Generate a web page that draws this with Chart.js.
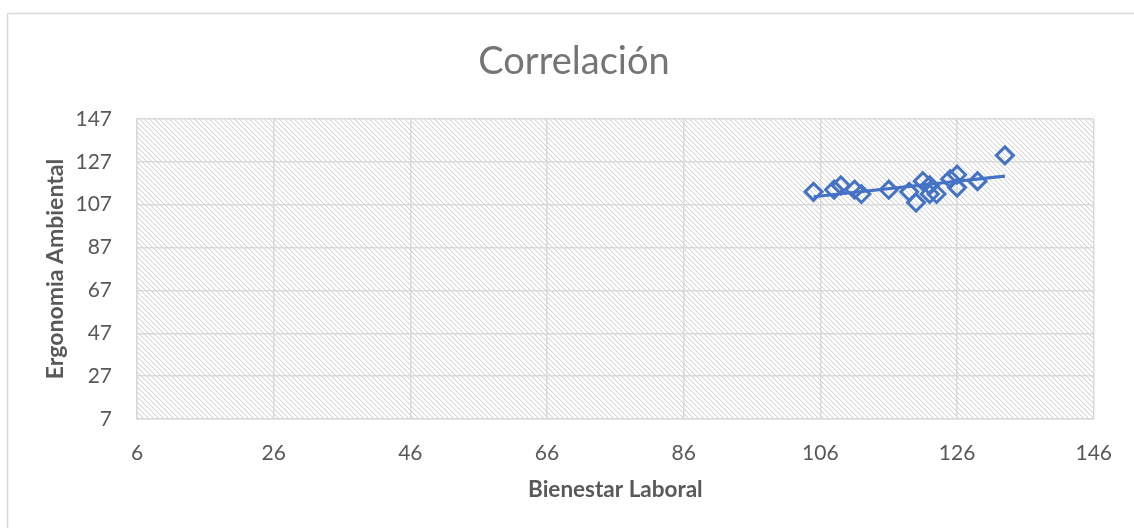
<!DOCTYPE html>
<html>
<head>
<meta charset="utf-8">
<script src="https://cdn.jsdelivr.net/npm/chart.js@4/dist/chart.umd.min.js"></script>
<style>
  html, body { margin: 0; padding: 0; background: #fff; }
  #wrap { width: 1134px; height: 528px; }
</style>
</head>
<body>
<div id="wrap"><canvas id="corr" width="1134" height="528"></canvas></div>
<script>
// Bienestar Laboral (x) vs Ergonomia Ambiental (y), one pair per respondent
const bienestar = [105, 108, 109, 111, 112, 116, 119, 120, 121, 122, 122, 123, 125, 126, 126, 129, 133];
const ergonomia = [113, 114, 116, 114, 112, 114, 113, 108, 118, 116, 112, 112, 119, 121, 115, 118, 130];
const xTicks = [6, 26, 46, 66, 86, 106, 126, 146];
const yTicks = [7, 27, 47, 67, 87, 107, 127, 147];

const BLUE = '#4472c4';
const TEXT = '#595959';
const GRID = '#d9d9d9';

const points = bienestar.map((x, i) => ({ x: x, y: ergonomia[i] }));

// least squares trend line over the observed range
function trendLine(xs, ys){
    const n = xs.length;
    const mx = xs.reduce((a, b) => a + b, 0) / n;
    const my = ys.reduce((a, b) => a + b, 0) / n;
    let sxy = 0, sxx = 0;
    for (let i = 0; i < n; i++){
        sxy += (xs[i] - mx) * (ys[i] - my);
        sxx += (xs[i] - mx) * (xs[i] - mx);
    }
    const m = sxy / sxx, b = my - m * mx;
    const x0 = Math.min(...xs), x1 = Math.max(...xs);
    return [{ x: x0, y: m * x0 + b }, { x: x1, y: m * x1 + b }];
}

// light downward diagonal hatch for the plot area
function hatchPattern(ctx){
    const tile = document.createElement('canvas');
    tile.width = 5; tile.height = 5;
    const t = tile.getContext('2d');
    t.fillStyle = '#ffffff';
    t.fillRect(0, 0, 5, 5);
    t.fillStyle = '#d6d6d6';
    for (let i = 0; i < 5; i++) t.fillRect(i, i, 1, 1);
    t.fillStyle = '#f0f0f0';
    for (let i = 0; i < 5; i++) t.fillRect((i + 1) % 5, i, 1, 1);
    return ctx.createPattern(tile, 'repeat');
}

const backdrop = {
    id: 'backdrop',
    beforeDraw(chart){
        const ctx = chart.ctx;
        const a = chart.chartArea;
        ctx.save();
        ctx.fillStyle = '#ffffff';
        ctx.fillRect(0, 0, chart.width, chart.height);
        ctx.strokeStyle = GRID;
        ctx.lineWidth = 1.5;
        ctx.strokeRect(7.5, 13.5, chart.width + 10, chart.height + 10);
        ctx.fillStyle = hatchPattern(ctx);
        ctx.fillRect(a.left, a.top, a.right - a.left, a.bottom - a.top);
        ctx.restore();
    }
};

function initializeChart(canvasId){
    const ctx = document.getElementById(canvasId).getContext('2d');
    new Chart(ctx, {
        type: 'scatter',
        data: {
            datasets: [{
                label: 'Ergonomia Ambiental',
                data: points,
                pointStyle: 'rectRot',
                pointRadius: 8.5,
                pointHoverRadius: 8.5,
                borderColor: BLUE,
                borderWidth: 3,
                backgroundColor: 'rgba(0,0,0,0)',
                order: 1
            }, {
                type: 'line',
                label: 'Lineal',
                data: trendLine(bienestar, ergonomia),
                borderColor: BLUE,
                borderWidth: 3.2,
                pointRadius: 0,
                fill: false,
                order: 2
            }]
        },
        options: {
            responsive: false,
            animation: false,
            layout: { padding: { left: 14, right: 0, top: 0, bottom: 0 } },
            plugins: {
                legend: { display: false },
                tooltip: { enabled: false },
                title: {
                    display: true,
                    text: 'Correlación',
                    color: '#757575',
                    font: { family: 'Lato', size: 38, weight: 'normal', lineHeight: 1.2 },
                    padding: { top: 39, bottom: 34.4 }
                }
            },
            scales: {
                x: {
                    type: 'linear',
                    min: xTicks[0],
                    max: xTicks[xTicks.length - 1],
                    afterBuildTicks: s => { s.ticks = xTicks.map(v => ({ value: v })); },
                    afterFit: s => { s.height = 109; },
                    grid: { color: GRID, lineWidth: 1.5, drawTicks: false },
                    border: { color: GRID, width: 1.5 },
                    ticks: { color: TEXT, padding: 22, font: { family: 'Lato', size: 21 } },
                    title: {
                        display: true,
                        text: 'Bienestar Laboral',
                        color: TEXT,
                        font: { family: 'Lato', size: 22.5, weight: 'bold', lineHeight: 1.2 },
                        padding: { top: 0, bottom: 25 }
                    }
                },
                y: {
                    type: 'linear',
                    min: yTicks[0],
                    max: yTicks[yTicks.length - 1],
                    afterBuildTicks: s => { s.ticks = yTicks.map(v => ({ value: v })); },
                    afterFit: s => { s.width = 123; },
                    grid: { color: GRID, lineWidth: 1.5, drawTicks: false },
                    border: { color: GRID, width: 1.5 },
                    ticks: { color: TEXT, padding: 25, font: { family: 'Lato', size: 21 } },
                    title: {
                        display: true,
                        text: 'Ergonomia Ambiental',
                        color: TEXT,
                        font: { family: 'Lato', size: 23, weight: 'bold', lineHeight: 1.2 },
                        padding: { top: 28, bottom: 0 }
                    }
                },
                // blank right-hand margin so the title centres on the full frame
                yRight: {
                    type: 'linear',
                    position: 'right',
                    display: true,
                    min: yTicks[0],
                    max: yTicks[yTicks.length - 1],
                    afterFit: s => { s.width = 39; },
                    grid: { display: false, drawOnChartArea: false },
                    border: { display: false },
                    ticks: { display: false }
                }
            }
        },
        plugins: [backdrop]
    });
}

initializeChart('corr');
</script>
</body>
</html>
